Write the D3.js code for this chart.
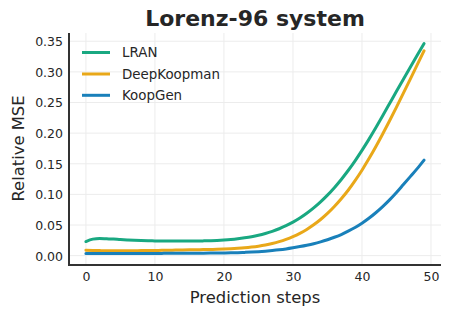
<!DOCTYPE html>
<html>
<head>
<meta charset="utf-8">
<script src="https://cdn.jsdelivr.net/npm/d3@7"></script>
<style>
  html, body { margin: 0; padding: 0; background: #fff; }
  svg { display: block; font-family: "DejaVu Sans", sans-serif; }
</style>
</head>
<body>
<svg id="chart" width="451" height="317"></svg>
<script>
// ---- data ----
const steps = d3.range(0, 50);
const seriesNames = ["LRAN", "DeepKoopman", "KoopGen"];
const seriesColors = ["#19a881", "#e9a819", "#1980ba"];
const lran = [
  0.023, 0.027, 0.028, 0.0275, 0.027, 0.0262, 0.0256, 0.025, 0.0246, 0.0243,
  0.0241, 0.024, 0.0239, 0.0238, 0.0238, 0.0238, 0.0239, 0.0241, 0.0244, 0.0249,
  0.0256, 0.0265, 0.0277, 0.0292, 0.031, 0.0333, 0.0362, 0.0397, 0.0439, 0.0489,
  0.0547, 0.0614, 0.0691, 0.0779, 0.0878, 0.0988, 0.111, 0.1244, 0.139, 0.1548,
  0.1718, 0.1898, 0.2087, 0.2283, 0.2483, 0.2683, 0.2881, 0.3077, 0.3271, 0.3463
];
const deepKoopman = [
  0.009, 0.0085, 0.0082, 0.008, 0.008, 0.008, 0.008, 0.0081, 0.0082, 0.0083,
  0.0085, 0.0087, 0.0089, 0.0091, 0.0093, 0.0095, 0.0097, 0.0099, 0.0101, 0.0104,
  0.0107, 0.0112, 0.0119, 0.0128, 0.014, 0.0155, 0.0174, 0.0198, 0.0228, 0.0265,
  0.031, 0.0364, 0.0428, 0.0503, 0.059, 0.069, 0.0803, 0.0929, 0.1068, 0.1225,
  0.1395, 0.158, 0.1777, 0.1985, 0.2202, 0.2425, 0.2652, 0.2882, 0.3113, 0.3345
];
const koopGen = [
  0.0035, 0.0035, 0.0035, 0.0035, 0.0035, 0.0035, 0.0035, 0.0036, 0.0036, 0.0036,
  0.0037, 0.0037, 0.0038, 0.0038, 0.0039, 0.0040, 0.0040, 0.0041, 0.0042, 0.0043,
  0.0044, 0.0046, 0.0049, 0.0053, 0.0058, 0.0065, 0.0073, 0.0083, 0.0095, 0.011,
  0.0128, 0.0148, 0.017, 0.0195, 0.0225, 0.026, 0.030, 0.0345, 0.040, 0.046,
  0.053, 0.061, 0.070, 0.080, 0.091, 0.103, 0.116, 0.129, 0.142, 0.156
];
const seriesValues = [lran, deepKoopman, koopGen];
const xTicks = [0, 10, 20, 30, 40, 50];
const yTicks = [0.00, 0.05, 0.10, 0.15, 0.20, 0.25, 0.30, 0.35];
const titleText = "Lorenz-96 system";
const xLabel = "Prediction steps";
const yLabel = "Relative MSE";

// ---- layout ----
const svg = d3.select("#chart");
const L = 69, R = 441, T = 33, B = 264;
const textColor = "#262626";

const xMin = 0, xMax = steps.length - 1;
const xPad = (xMax - xMin) * 0.05;
const allVals = seriesValues.flat();
const yMin = d3.min(allVals), yMax = d3.max(allVals);
const yPad = (yMax - yMin) * 0.05;

const x = d3.scaleLinear().domain([xMin - xPad, xMax + xPad]).range([L, R]);
const y = d3.scaleLinear().domain([yMin - yPad, yMax + yPad]).range([B, T]);

// grid
const grid = svg.append("g");
grid.selectAll("line.vx").data(xTicks).join("line")
  .attr("x1", d => x(d)).attr("x2", d => x(d))
  .attr("y1", T).attr("y2", B)
  .attr("stroke", "#ececec").attr("stroke-width", 1);
grid.selectAll("line.hy").data(yTicks).join("line")
  .attr("x1", L).attr("x2", R)
  .attr("y1", d => y(d)).attr("y2", d => y(d))
  .attr("stroke", "#ececec").attr("stroke-width", 1);

// axes (no tick marks)
const xAxis = d3.axisBottom(x).tickValues(xTicks).tickSize(0).tickPadding(0).tickFormat(d3.format("d"));
const yAxis = d3.axisLeft(y).tickValues(yTicks).tickSize(0).tickPadding(0).tickFormat(d3.format(".2f"));

const gx = svg.append("g").attr("transform", `translate(0,${B})`).call(xAxis);
gx.select(".domain").remove();
gx.selectAll("text")
  .attr("y", 16.5).attr("dy", null)
  .attr("font-size", 12.5).attr("fill", textColor)
  .attr("font-family", "DejaVu Sans");

const gy = svg.append("g").attr("transform", `translate(${L},0)`).call(yAxis);
gy.select(".domain").remove();
gy.selectAll("text")
  .attr("x", -6).attr("dy", "0.36em")
  .attr("font-size", 12.5).attr("fill", textColor)
  .attr("font-family", "DejaVu Sans");

// lines
const line = d3.line().x((d, i) => x(steps[i])).y(d => y(d)).curve(d3.curveMonotoneX);
svg.append("g").selectAll("path").data(seriesValues).join("path")
  .attr("d", d => line(d))
  .attr("fill", "none")
  .attr("stroke", (d, i) => seriesColors[i])
  .attr("stroke-width", 3)
  .attr("stroke-linecap", "round")
  .attr("stroke-linejoin", "round");

// spines
svg.append("line").attr("x1", L).attr("x2", L).attr("y1", T).attr("y2", B + 1)
  .attr("stroke", "#333").attr("stroke-width", 2);
svg.append("line").attr("x1", L - 1).attr("x2", R).attr("y1", B + 1).attr("y2", B + 1)
  .attr("stroke", "#333").attr("stroke-width", 2);

// legend
const legend = svg.append("g");
const legY = [52.5, 74, 95.3];
seriesNames.forEach((name, i) => {
  legend.append("line")
    .attr("x1", 82).attr("x2", 110)
    .attr("y1", legY[i]).attr("y2", legY[i])
    .attr("stroke", seriesColors[i]).attr("stroke-width", 3);
  legend.append("text")
    .attr("x", 122).attr("y", legY[i] + 4.9)
    .attr("font-size", 13.4).attr("fill", textColor)
    .text(name);
});

// title & labels
svg.append("text")
  .attr("x", (L + R) / 2).attr("y", 26)
  .attr("text-anchor", "middle")
  .attr("font-size", 22).attr("font-weight", "bold").attr("fill", textColor)
  .text(titleText);

svg.append("text")
  .attr("x", (L + R) / 2).attr("y", 302.5)
  .attr("text-anchor", "middle")
  .attr("font-size", 16.4).attr("fill", textColor)
  .text(xLabel);

svg.append("text")
  .attr("transform", `translate(24,${(T + B) / 2}) rotate(-90)`)
  .attr("text-anchor", "middle")
  .attr("font-size", 16.4).attr("fill", textColor)
  .text(yLabel);
</script>
</body>
</html>
